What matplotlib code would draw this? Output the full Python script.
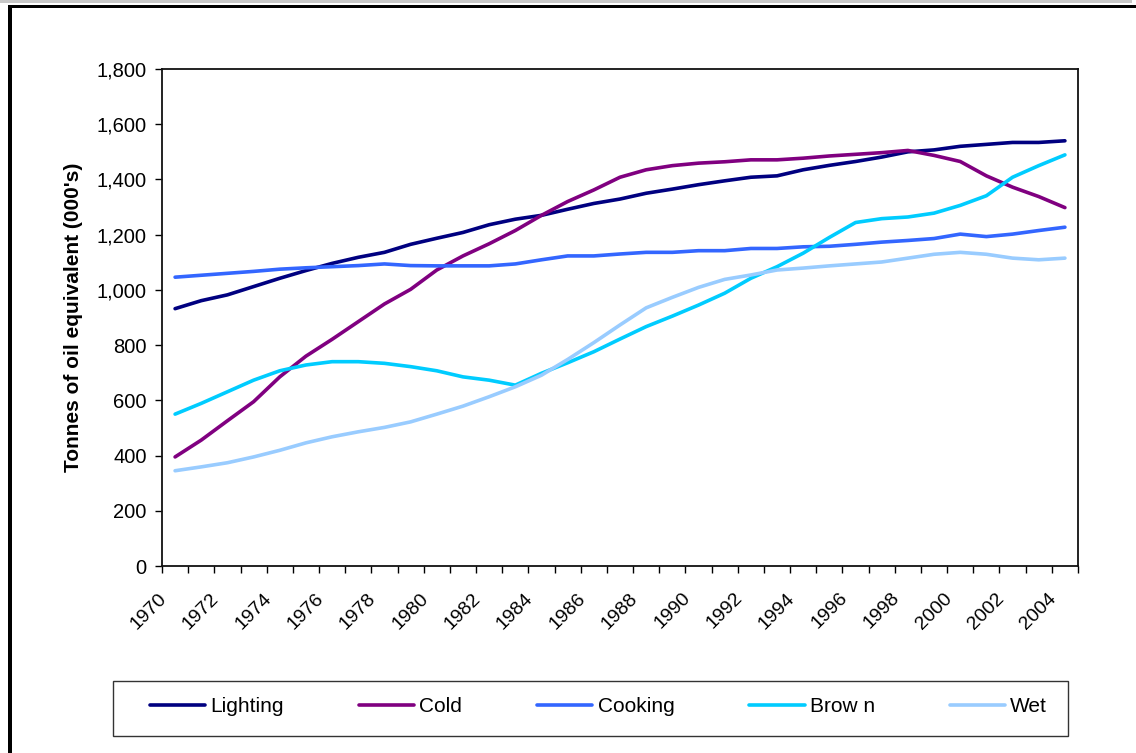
import matplotlib
matplotlib.use("Agg")
import matplotlib.pyplot as plt
from matplotlib.patches import Rectangle
from matplotlib.ticker import FuncFormatter, FixedLocator
from matplotlib.transforms import ScaledTranslation

plt.rcParams['font.family'] = ['Liberation Sans', 'DejaVu Sans']

years = list(range(1970, 2005))
lighting = [932, 961, 982, 1012, 1042, 1070, 1096, 1118, 1136, 1165, 1187, 1208, 1236,
            1256, 1270, 1292, 1313, 1329, 1350, 1365, 1381, 1395, 1408, 1413, 1435, 1451,
            1465, 1481, 1500, 1507, 1520, 1527, 1534, 1534, 1540]
cold = [395, 456, 526, 595, 685, 760, 821, 885, 949, 1002, 1072, 1123, 1167, 1215, 1270,
        1320, 1362, 1408, 1435, 1450, 1459, 1464, 1471, 1471, 1477, 1485, 1491, 1497, 1505,
        1487, 1465, 1413, 1372, 1338, 1298]
cooking = [1046, 1053, 1060, 1067, 1075, 1080, 1084, 1088, 1094, 1088, 1087, 1087, 1087,
           1094, 1109, 1123, 1123, 1130, 1136, 1136, 1142, 1142, 1150, 1150, 1156, 1158,
           1165, 1173, 1179, 1186, 1202, 1193, 1202, 1215, 1227]
brown = [550, 589, 631, 673, 707, 728, 740, 740, 734, 722, 707, 685, 673, 655, 698, 736,
         776, 822, 867, 905, 945, 988, 1042, 1084, 1133, 1190, 1244, 1258, 1264, 1278,
         1306, 1341, 1408, 1450, 1489]
wet = [345, 359, 374, 395, 419, 446, 468, 486, 502, 522, 550, 579, 613, 649, 691, 748, 809,
       873, 935, 973, 1009, 1038, 1054, 1072, 1079, 1087, 1094, 1101, 1115, 1129, 1136,
       1129, 1115, 1109, 1115]

series_names = ["Lighting", "Cold", "Cooking", "Brow n", "Wet"]
series_values = [lighting, cold, cooking, brown, wet]
series_colors = ["#000080", "#800080", "#3366FF", "#00CCFF", "#99CCFF"]
y_ticks = [0, 200, 400, 600, 800, 1000, 1200, 1400, 1600, 1800]
y_label = "Tonnes of oil equivalent (000's)"

W, H = 1136, 753
fig = plt.figure(figsize=(W / 100, H / 100), dpi=100)
ax = fig.add_axes([162 / W, 1 - 566 / H, (1078 - 162) / W, (566 - 69) / H])

x = list(range(len(years)))
handles = []
for name, vals, col in zip(series_names, series_values, series_colors):
    h, = ax.plot(x, vals, color=col, lw=2.6, solid_capstyle='round',
                 solid_joinstyle='round', label=name)
    handles.append(h)

ax.set_xlim(-0.5, len(years) - 0.5)
ax.set_ylim(0, 1800)

# y axis
ax.set_yticks(y_ticks)
ax.yaxis.set_major_formatter(FuncFormatter(lambda v, p: f"{int(v):,}"))
ax.tick_params(axis='y', direction='out', length=5, width=1, labelsize=14.5,
               pad=6, colors='black')
ax.set_ylabel(y_label, fontsize=15, fontweight='bold', labelpad=10)

# x axis: labels every other year, ticks between categories
label_pos = [i for i, yv in enumerate(years) if yv % 2 == 0]
ax.set_xticks(label_pos)
ax.set_xticklabels([str(years[i]) for i in label_pos], rotation=45, ha='right',
                   rotation_mode='anchor', fontsize=14)
ax.tick_params(axis='x', which='major', length=0, pad=12)
shift = ScaledTranslation(-0.17, -0.07, fig.dpi_scale_trans)
for lbl in ax.get_xticklabels():
    lbl.set_transform(lbl.get_transform() + shift)
ax.xaxis.set_minor_locator(FixedLocator([i - 0.5 for i in range(len(years) + 1)]))
ax.tick_params(axis='x', which='minor', direction='out', length=5, width=1)

for s in ax.spines.values():
    s.set_linewidth(1.3)
    s.set_color('#111111')

# legend: box drawn separately, entries laid out in one row
fig.add_artist(Rectangle((113 / W, 1 - 736 / H), (1068 - 113) / W, 55 / H,
                         transform=fig.transFigure, facecolor='none',
                         edgecolor='#333333', lw=1.0))
leg = fig.legend(handles=handles, labels=series_names, ncol=5, loc='center left',
                 bbox_to_anchor=(150 / W, 1 - 707 / H), frameon=False, fontsize=15,
                 handlelength=2.65, handletextpad=0.25, columnspacing=3.6,
                 borderpad=0, borderaxespad=0)

# outer frame
fig.add_artist(Rectangle((0, 1 - 3 / H), 1132 / W, 3 / H, transform=fig.transFigure,
                         facecolor='#C8C8C8', edgecolor='none'))
fig.add_artist(Rectangle((8 / W, 1 - 8 / H), 1, 3 / H, transform=fig.transFigure,
                         facecolor='black', edgecolor='none'))
fig.add_artist(Rectangle((8 / W, 0), 4 / W, 1 - 5 / H, transform=fig.transFigure,
                         facecolor='black', edgecolor='none'))

fig.savefig("out.png", dpi=100)
